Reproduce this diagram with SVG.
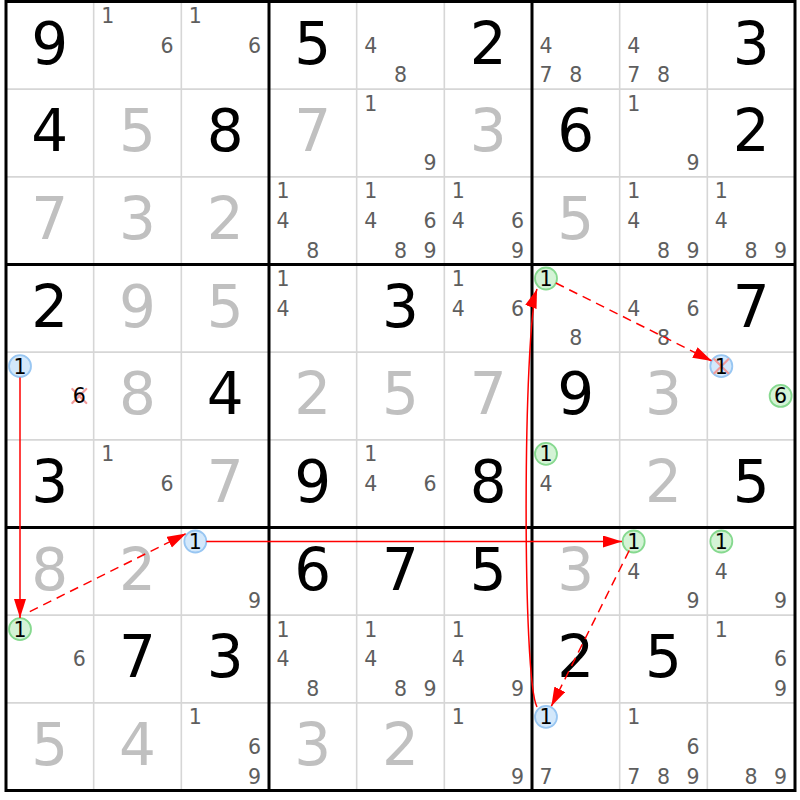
<svg xmlns="http://www.w3.org/2000/svg" width="800" height="800" viewBox="0 0 800 800">
<style>
text{font-family:"DejaVu Sans","Liberation Sans",sans-serif;text-anchor:middle}
.g{font-size:58px;fill:#000}
.s{font-size:58px;fill:#c0c0c0}
.c{font-size:20.5px;fill:#5e5e5e}
.k{font-size:20.5px;fill:#000}
.thin{stroke:#d6d6d6;stroke-width:1.6}
.thick{stroke:#000;stroke-width:3}
.cb{fill:#d3e8fb;stroke:#98c6f2;stroke-width:1.8}
.cg{fill:#d4f3d6;stroke:#86d98f;stroke-width:1.8}
.x{stroke:#f29a9a;stroke-width:2.2;stroke-linecap:round}
.a{stroke:#ff0000;stroke-width:1.5;fill:none;marker-end:url(#ah)}
.d{stroke-dasharray:9,6}
</style>
<defs>
<marker id="ah" markerUnits="userSpaceOnUse" markerWidth="20" markerHeight="13" refX="19" refY="6" orient="auto">
<path d="M0,0 L19,6 L0,12 Z" fill="#ff0000"/>
</marker>
</defs>
<rect width="800" height="800" fill="#fff"/>
<g id="grid">
<path class="thin" d="M93.67,1.5V790.5M181.33,1.5V790.5M356.67,1.5V790.5M444.33,1.5V790.5M619.67,1.5V790.5M707.33,1.5V790.5M6,89.17H795M6,176.83H795M6,352.17H795M6,439.83H795M6,615.17H795M6,702.83H795"/>
<path class="thick" d="M6,0V792M269,0V792M532,0V792M795,0V792M4.5,1.5H796.5M4.5,264.5H796.5M4.5,527.5H796.5M4.5,790.5H796.5"/>
</g>
<!-- row 1 -->
<g id="r1c1" transform="translate(6,1.5)"><text class="g" x="43.8" y="62">9</text></g>
<g id="r1c2" transform="translate(93.67,1.5)"><text class="c" x="14" y="21.5">1</text><text class="c" x="73.3" y="51.3">6</text></g>
<g id="r1c3" transform="translate(181.33,1.5)"><text class="c" x="14" y="21.5">1</text><text class="c" x="73.3" y="51.3">6</text></g>
<g id="r1c4" transform="translate(269,1.5)"><text class="g" x="43.8" y="62">5</text></g>
<g id="r1c5" transform="translate(356.67,1.5)"><text class="c" x="14" y="51.3">4</text><text class="c" x="43.8" y="80.8">8</text></g>
<g id="r1c6" transform="translate(444.33,1.5)"><text class="g" x="43.8" y="62">2</text></g>
<g id="r1c7" transform="translate(532,1.5)"><text class="c" x="14" y="51.3">4</text><text class="c" x="14" y="80.8">7</text><text class="c" x="43.8" y="80.8">8</text></g>
<g id="r1c8" transform="translate(619.67,1.5)"><text class="c" x="14" y="51.3">4</text><text class="c" x="14" y="80.8">7</text><text class="c" x="43.8" y="80.8">8</text></g>
<g id="r1c9" transform="translate(707.33,1.5)"><text class="g" x="43.8" y="62">3</text></g>
<!-- row 2 -->
<g id="r2c1" transform="translate(6,89.17)"><text class="g" x="43.8" y="62">4</text></g>
<g id="r2c2" transform="translate(93.67,89.17)"><text class="s" x="43.8" y="62">5</text></g>
<g id="r2c3" transform="translate(181.33,89.17)"><text class="g" x="43.8" y="62">8</text></g>
<g id="r2c4" transform="translate(269,89.17)"><text class="s" x="43.8" y="62">7</text></g>
<g id="r2c5" transform="translate(356.67,89.17)"><text class="c" x="14" y="21.5">1</text><text class="c" x="73.3" y="80.8">9</text></g>
<g id="r2c6" transform="translate(444.33,89.17)"><text class="s" x="43.8" y="62">3</text></g>
<g id="r2c7" transform="translate(532,89.17)"><text class="g" x="43.8" y="62">6</text></g>
<g id="r2c8" transform="translate(619.67,89.17)"><text class="c" x="14" y="21.5">1</text><text class="c" x="73.3" y="80.8">9</text></g>
<g id="r2c9" transform="translate(707.33,89.17)"><text class="g" x="43.8" y="62">2</text></g>
<!-- row 3 -->
<g id="r3c1" transform="translate(6,176.83)"><text class="s" x="43.8" y="62">7</text></g>
<g id="r3c2" transform="translate(93.67,176.83)"><text class="s" x="43.8" y="62">3</text></g>
<g id="r3c3" transform="translate(181.33,176.83)"><text class="s" x="43.8" y="62">2</text></g>
<g id="r3c4" transform="translate(269,176.83)"><text class="c" x="14" y="21.5">1</text><text class="c" x="14" y="51.3">4</text><text class="c" x="43.8" y="80.8">8</text></g>
<g id="r3c5" transform="translate(356.67,176.83)"><text class="c" x="14" y="21.5">1</text><text class="c" x="14" y="51.3">4</text><text class="c" x="73.3" y="51.3">6</text><text class="c" x="43.8" y="80.8">8</text><text class="c" x="73.3" y="80.8">9</text></g>
<g id="r3c6" transform="translate(444.33,176.83)"><text class="c" x="14" y="21.5">1</text><text class="c" x="14" y="51.3">4</text><text class="c" x="73.3" y="51.3">6</text><text class="c" x="73.3" y="80.8">9</text></g>
<g id="r3c7" transform="translate(532,176.83)"><text class="s" x="43.8" y="62">5</text></g>
<g id="r3c8" transform="translate(619.67,176.83)"><text class="c" x="14" y="21.5">1</text><text class="c" x="14" y="51.3">4</text><text class="c" x="43.8" y="80.8">8</text><text class="c" x="73.3" y="80.8">9</text></g>
<g id="r3c9" transform="translate(707.33,176.83)"><text class="c" x="14" y="21.5">1</text><text class="c" x="14" y="51.3">4</text><text class="c" x="43.8" y="80.8">8</text><text class="c" x="73.3" y="80.8">9</text></g>
<!-- row 4 -->
<g id="r4c1" transform="translate(6,264.5)"><text class="g" x="43.8" y="62">2</text></g>
<g id="r4c2" transform="translate(93.67,264.5)"><text class="s" x="43.8" y="62">9</text></g>
<g id="r4c3" transform="translate(181.33,264.5)"><text class="s" x="43.8" y="62">5</text></g>
<g id="r4c4" transform="translate(269,264.5)"><text class="c" x="14" y="21.5">1</text><text class="c" x="14" y="51.3">4</text></g>
<g id="r4c5" transform="translate(356.67,264.5)"><text class="g" x="43.8" y="62">3</text></g>
<g id="r4c6" transform="translate(444.33,264.5)"><text class="c" x="14" y="21.5">1</text><text class="c" x="14" y="51.3">4</text><text class="c" x="73.3" y="51.3">6</text></g>
<g id="r4c7" transform="translate(532,264.5)"><circle class="cg" cx="14" cy="14" r="11"/><text class="k" x="14" y="21.5">1</text><text class="c" x="43.8" y="80.8">8</text></g>
<g id="r4c8" transform="translate(619.67,264.5)"><text class="c" x="14" y="51.3">4</text><text class="c" x="73.3" y="51.3">6</text><text class="c" x="43.8" y="80.8">8</text></g>
<g id="r4c9" transform="translate(707.33,264.5)"><text class="g" x="43.8" y="62">7</text></g>
<!-- row 5 -->
<g id="r5c1" transform="translate(6,352.17)"><circle class="cb" cx="14" cy="14" r="11"/><text class="k" x="14" y="21.5">1</text><path class="x" d="M66.3,36.8L80.3,50.8M80.3,36.8L66.3,50.8"/><text class="k" x="73.3" y="51.3">6</text></g>
<g id="r5c2" transform="translate(93.67,352.17)"><text class="s" x="43.8" y="62">8</text></g>
<g id="r5c3" transform="translate(181.33,352.17)"><text class="g" x="43.8" y="62">4</text></g>
<g id="r5c4" transform="translate(269,352.17)"><text class="s" x="43.8" y="62">2</text></g>
<g id="r5c5" transform="translate(356.67,352.17)"><text class="s" x="43.8" y="62">5</text></g>
<g id="r5c6" transform="translate(444.33,352.17)"><text class="s" x="43.8" y="62">7</text></g>
<g id="r5c7" transform="translate(532,352.17)"><text class="g" x="43.8" y="62">9</text></g>
<g id="r5c8" transform="translate(619.67,352.17)"><text class="s" x="43.8" y="62">3</text></g>
<g id="r5c9" transform="translate(707.33,352.17)"><circle class="cb" cx="14" cy="14" r="11"/><path class="x" d="M7,7L21,21M21,7L7,21"/><text class="k" x="14" y="21.5">1</text><circle class="cg" cx="73.3" cy="43.8" r="11"/><text class="k" x="73.3" y="51.3">6</text></g>
<!-- row 6 -->
<g id="r6c1" transform="translate(6,439.83)"><text class="g" x="43.8" y="62">3</text></g>
<g id="r6c2" transform="translate(93.67,439.83)"><text class="c" x="14" y="21.5">1</text><text class="c" x="73.3" y="51.3">6</text></g>
<g id="r6c3" transform="translate(181.33,439.83)"><text class="s" x="43.8" y="62">7</text></g>
<g id="r6c4" transform="translate(269,439.83)"><text class="g" x="43.8" y="62">9</text></g>
<g id="r6c5" transform="translate(356.67,439.83)"><text class="c" x="14" y="21.5">1</text><text class="c" x="14" y="51.3">4</text><text class="c" x="73.3" y="51.3">6</text></g>
<g id="r6c6" transform="translate(444.33,439.83)"><text class="g" x="43.8" y="62">8</text></g>
<g id="r6c7" transform="translate(532,439.83)"><circle class="cg" cx="14" cy="14" r="11"/><text class="k" x="14" y="21.5">1</text><text class="c" x="14" y="51.3">4</text></g>
<g id="r6c8" transform="translate(619.67,439.83)"><text class="s" x="43.8" y="62">2</text></g>
<g id="r6c9" transform="translate(707.33,439.83)"><text class="g" x="43.8" y="62">5</text></g>
<!-- row 7 -->
<g id="r7c1" transform="translate(6,527.5)"><text class="s" x="43.8" y="62">8</text></g>
<g id="r7c2" transform="translate(93.67,527.5)"><text class="s" x="43.8" y="62">2</text></g>
<g id="r7c3" transform="translate(181.33,527.5)"><circle class="cb" cx="14" cy="14" r="11"/><text class="k" x="14" y="21.5">1</text><text class="c" x="73.3" y="80.8">9</text></g>
<g id="r7c4" transform="translate(269,527.5)"><text class="g" x="43.8" y="62">6</text></g>
<g id="r7c5" transform="translate(356.67,527.5)"><text class="g" x="43.8" y="62">7</text></g>
<g id="r7c6" transform="translate(444.33,527.5)"><text class="g" x="43.8" y="62">5</text></g>
<g id="r7c7" transform="translate(532,527.5)"><text class="s" x="43.8" y="62">3</text></g>
<g id="r7c8" transform="translate(619.67,527.5)"><circle class="cg" cx="14" cy="14" r="11"/><text class="k" x="14" y="21.5">1</text><text class="c" x="14" y="51.3">4</text><text class="c" x="73.3" y="80.8">9</text></g>
<g id="r7c9" transform="translate(707.33,527.5)"><circle class="cg" cx="14" cy="14" r="11"/><text class="k" x="14" y="21.5">1</text><text class="c" x="14" y="51.3">4</text><text class="c" x="73.3" y="80.8">9</text></g>
<!-- row 8 -->
<g id="r8c1" transform="translate(6,615.17)"><circle class="cg" cx="14" cy="14" r="11"/><text class="k" x="14" y="21.5">1</text><text class="c" x="73.3" y="51.3">6</text></g>
<g id="r8c2" transform="translate(93.67,615.17)"><text class="g" x="43.8" y="62">7</text></g>
<g id="r8c3" transform="translate(181.33,615.17)"><text class="g" x="43.8" y="62">3</text></g>
<g id="r8c4" transform="translate(269,615.17)"><text class="c" x="14" y="21.5">1</text><text class="c" x="14" y="51.3">4</text><text class="c" x="43.8" y="80.8">8</text></g>
<g id="r8c5" transform="translate(356.67,615.17)"><text class="c" x="14" y="21.5">1</text><text class="c" x="14" y="51.3">4</text><text class="c" x="43.8" y="80.8">8</text><text class="c" x="73.3" y="80.8">9</text></g>
<g id="r8c6" transform="translate(444.33,615.17)"><text class="c" x="14" y="21.5">1</text><text class="c" x="14" y="51.3">4</text><text class="c" x="73.3" y="80.8">9</text></g>
<g id="r8c7" transform="translate(532,615.17)"><text class="g" x="43.8" y="62">2</text></g>
<g id="r8c8" transform="translate(619.67,615.17)"><text class="g" x="43.8" y="62">5</text></g>
<g id="r8c9" transform="translate(707.33,615.17)"><text class="c" x="14" y="21.5">1</text><text class="c" x="73.3" y="51.3">6</text><text class="c" x="73.3" y="80.8">9</text></g>
<!-- row 9 -->
<g id="r9c1" transform="translate(6,702.83)"><text class="s" x="43.8" y="62">5</text></g>
<g id="r9c2" transform="translate(93.67,702.83)"><text class="s" x="43.8" y="62">4</text></g>
<g id="r9c3" transform="translate(181.33,702.83)"><text class="c" x="14" y="21.5">1</text><text class="c" x="73.3" y="51.3">6</text><text class="c" x="73.3" y="80.8">9</text></g>
<g id="r9c4" transform="translate(269,702.83)"><text class="s" x="43.8" y="62">3</text></g>
<g id="r9c5" transform="translate(356.67,702.83)"><text class="s" x="43.8" y="62">2</text></g>
<g id="r9c6" transform="translate(444.33,702.83)"><text class="c" x="14" y="21.5">1</text><text class="c" x="73.3" y="80.8">9</text></g>
<g id="r9c7" transform="translate(532,702.83)"><circle class="cb" cx="14" cy="14" r="11"/><text class="k" x="14" y="21.5">1</text><text class="c" x="14" y="80.8">7</text></g>
<g id="r9c8" transform="translate(619.67,702.83)"><text class="c" x="14" y="21.5">1</text><text class="c" x="73.3" y="51.3">6</text><text class="c" x="14" y="80.8">7</text><text class="c" x="43.8" y="80.8">8</text><text class="c" x="73.3" y="80.8">9</text></g>
<g id="r9c9" transform="translate(707.33,702.83)"><text class="c" x="43.8" y="80.8">8</text><text class="c" x="73.3" y="80.8">9</text></g>
<g id="connectors">
<path class="a" d="M20,377.5V618"/>
<path class="a d" d="M29.8,611.6L186.2,533.6"/>
<path class="a" d="M206.3,541.5H622"/>
<path class="a d" d="M629.2,550.5L551.3,706.3"/>
<path class="a" d="M537,707C522,680 523,330 537,289"/>
<path class="a d" d="M555.8,283L711.9,361"/>
</g>
</svg>
